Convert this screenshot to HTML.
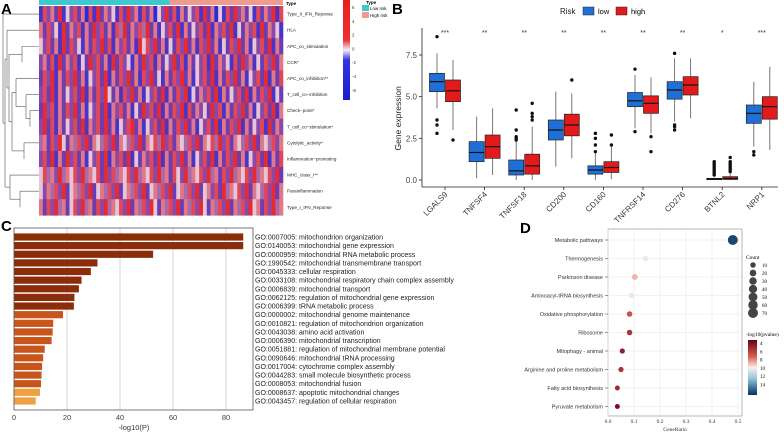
<!DOCTYPE html>
<html><head><meta charset="utf-8"><style>
html,body{margin:0;padding:0;background:#fff;}
svg{display:block;font-family:"Liberation Sans",sans-serif;}
</style></head><body>
<svg id="fig" width="784" height="433" viewBox="0 0 784 433" xmlns="http://www.w3.org/2000/svg">
<defs>
<linearGradient id="hmgrad" x1="0" y1="0" x2="0" y2="1">
<stop offset="0" stop-color="#e8201c"/><stop offset="0.4" stop-color="#ee3030"/><stop offset="0.5" stop-color="#f4f0f4"/><stop offset="0.6" stop-color="#3434e0"/><stop offset="1" stop-color="#1c1cc8"/></linearGradient>
<linearGradient id="pgrad" x1="0" y1="0" x2="0" y2="1">
<stop offset="0" stop-color="#67001f"/><stop offset="0.3" stop-color="#d6604d"/><stop offset="0.5" stop-color="#f7f0ea"/><stop offset="0.7" stop-color="#92c5de"/><stop offset="1" stop-color="#053061"/></linearGradient>
</defs>
<g id="pA"></g>
<g id="pB"></g>
<g id="pC"></g>
<g id="pD"></g>
</svg>
<script>
// ---------- Panel A data ----------
const hmRows = ["Type_II_IFN_Reponse","HLA","APC_co_stimulation","CCR*","APC_co_inhibition**","T_cell_co\u2212inhibition","Check\u2212point*","T_cell_co\u2212stimulation*","Cytolytic_activity*","Inflammation\u2212promoting","MHC_class_I**","Parainflammation","Type_I_IFN_Reponse"];
const hmCells = [
"1736281537260718263517283617260538271625371826051728362517263817",
"6273518263716283726174826374826153728162537281637281526371826351",
"5372618273516273827163726185738261527382617382615273826153728162",
"3627182637152837261827351628371625382716253718263517283615273826",
"2738162738261537281627382617382516273826153728162738261537281627",
"3728162537281627385261738261537281627381526372816253728162738152",
"2837162738261537281637261528372816273817263528371627382615372816",
"3827162537281637282615378261537281627382615372816273816253718263",
"4627385264738265473826547382657483726547382657483726547382654736",
"3728162837261537281637281526372816273826153728162738261537281627",
"5746384657384657283746573846573846275384657384627384657384657382",
"5364738256473825647382564738256473825647382563728465738265473826",
"6273846257384627384657382647385264738264738526473826473856273846"];
const hmTicks = ["6","4","2","0","-2","-4","-6"];
// ---------- Panel B data ----------
const bGenes = ["LGALS9","TNFSF4","TNFSF18","CD200","CD160","TNFRSF14","CD276","BTNL2","NRP1"];
const bSig = ["***","**","**","**","**","**","**","*","***"];
// [min, q1, median, q3, max]
const bLow = [[4.3,5.3,5.9,6.4,7.6],[0.1,1.1,1.65,2.3,3.8],[0,0.3,0.55,1.2,2.3],[0.8,2.4,3.0,3.6,5.3],[0,0.35,0.6,0.85,1.6],[3.1,4.4,4.75,5.25,6.3],[3.5,4.85,5.4,5.9,7.3],[0,0.02,0.06,0.1,0.15],[2.0,3.4,4.0,4.5,5.9]];
const bHigh = [[3.0,4.7,5.35,6.0,7.2],[0.3,1.3,2.0,2.7,4.3],[0,0.35,0.85,1.55,3.2],[1.3,2.65,3.3,3.95,5.2],[0.05,0.45,0.75,1.1,2.0],[2.8,4.0,4.6,5.05,6.15],[3.7,5.1,5.7,6.2,7.3],[0,0.03,0.1,0.2,0.4],[1.8,3.65,4.4,5.0,6.8]];
const bOutLow = [[8.6,3.6,3.3,2.8],[],[4.2,3.0,2.6,2.5,2.4],[],[2.8,2.5,2.1,1.7],[6.65,2.9],[7.6,3.3,3.2,3.0],[1.1,1.0,0.9,0.8,0.7,0.6,0.5,0.4,0.3],[1.7,1.5]];
const bOutHigh = [[2.4],[],[4.6,4.0,3.8,3.6],[6.0],[2.7,2.1],[2.6,1.7],[],[1.35,1.1,1.0,0.9,0.8,0.7,0.6,0.5],[]];
const bTicks = [0,2.5,5,7.5];
// ---------- Panel C data ----------
const cTerms = ["GO:0007005: mitochondrion organization","GO:0140053: mitochondrial gene expression","GO:0000959: mitochondrial RNA metabolic process","GO:1990542: mitochondrial transmembrane transport","GO:0045333: cellular respiration","GO:0033108: mitochondrial respiratory chain complex assembly","GO:0006839: mitochondrial transport","GO:0062125: regulation of mitochondrial gene expression","GO:0006399: tRNA metabolic process","GO:0000002: mitochondrial genome maintenance","GO:0010821: regulation of mitochondrion organization","GO:0043038: amino acid activation","GO:0006390: mitochondrial transcription","GO:0051881: regulation of mitochondrial membrane potential","GO:0090646: mitochondrial tRNA processing","GO:0017004: cytochrome complex assembly","GO:0044283: small molecule biosynthetic process","GO:0008053: mitochondrial fusion","GO:0008637: apoptotic mitochondrial changes","GO:0043457: regulation of cellular respiration"];
const cValues = [86.5,86.5,52.5,31.5,29,25.5,24.5,22.8,22.6,18.5,14.8,14.6,14.2,11.6,11,10.6,10.4,10.2,9.8,8.2];
const cTicks = [0,20,40,60,80];
// ---------- Panel D data ----------
const dTerms = ["Metabolic pathways","Thermogenesis","Parkinson disease","Aminoacyl-tRNA biosynthesis","Oxidative phosphorylation","Ribosome","Mitophagy - animal","Arginine and proline metabolism","Fatty acid biosynthesis","Pyruvate metabolism"];
const dRatio = [0.48,0.145,0.103,0.09,0.083,0.083,0.055,0.05,0.036,0.036];
const dCount = [70,12,12,10,10,10,8,8,6,6];
const dLogP = [15.5,9.3,8.2,10,5.8,4.8,4.2,4.8,4.5,3.5];
const dTicks = [0,0.1,0.2,0.3,0.4,0.5];
const dCountTicks = [10,20,30,40,50,60,70];
const dPTicks = [4,6,8,10,12,14];

const NS="http://www.w3.org/2000/svg";
function mk(parent,tag,attrs,text){const e=document.createElementNS(NS,tag);for(const k in attrs)e.setAttribute(k,attrs[k]);if(text!==undefined)e.textContent=text;parent.appendChild(e);return e;}
function lerp(a,b,t){return a.map((v,i)=>Math.round(v+(b[i]-v)*t));}

// ---------- Panel A ----------
(function(){
const g=document.getElementById('pA');
const t=mk(g,'text',{x:1,y:14,'font-size':15,'font-weight':'bold'},'A');

const x0=39,x1=283,y0=6,rh=16.1;
const nCols=hmCells[0].length, cw=(x1-x0)/nCols;
const tb1=mk(g,'rect',{x:x0,y:0,width:(x1-x0)*0.535,height:5,fill:'#3ec8d0'});

const tb2=mk(g,'rect',{x:x0+(x1-x0)*0.535,y:0,width:(x1-x0)*0.465,height:5,fill:'#f09a90'});

mk(g,'text',{x:286,y:5,'font-size':4.5,'font-weight':'bold'},'Type');
const pal={'0':'#2a2ad8','1':'#4a34c8','2':'#6c3cb0','3':'#8a48a8','4':'#a86aa8','5':'#e6c6d6','6':'#e07888','7':'#e04858','8':'#e62a30'};
hmRows.forEach((name,r)=>{
 const s=hmCells[r];
 for(let c=0;c<nCols;c++){
  const cell=mk(g,'rect',{x:x0+c*cw,y:y0+r*rh,width:cw+0.3,height:rh+0.3,fill:pal[s[c]]});
  
  
 }
 const lab=mk(g,'text',{x:287,y:y0+r*rh+rh/2+1.5,'font-size':4.6,fill:'#222'},name);
 
 
});
// dendrogram
const den=mk(g,'g',{stroke:'#555','stroke-width':0.6,fill:'none'});

const yc=i=>y0+i*rh+rh/2;
const seg=(x1_,y1_,x2_,y2_)=>mk(den,'line',{x1:x1_,y1:y1_,x2:x2_,y2:y2_});
function link(a,ax,b,bx,hx){seg(ax,a,hx,a);seg(bx,b,hx,b);seg(hx,a,hx,b);return [(a+b)/2,hx];}
let n23=link(yc(2),39,yc(3),22,22);
let n56=link(yc(6),39,yc(7),30,30);
let n5x=link(yc(5),39,n56[0],30,26);
let n4x=link(yc(4),39,n5x[0],26,16);
let n89=link(yc(8),39,yc(9),24,24);
let n48=link(n4x[0],16,n89[0],24,12);
let n2x=link(n23[0],22,n48[0],12,9);
let n1x=link(yc(1),39,n2x[0],9,7);
let n1112=link(yc(11),39,yc(12),20,20);
let n10x=link(yc(10),39,n1112[0],20,10);
let n1y=link(n1x[0],7,n10x[0],10,5);
link(yc(0),39,n1y[0],5,3);
// colorbar
const cb=mk(g,'rect',{x:343,y:0,width:7,height:100,fill:'url(#hmgrad)'});

hmTicks.forEach((tk,i)=>{mk(g,'text',{x:352,y:9+i*13.8,'font-size':4.5,fill:'#333'},tk);});
mk(g,'text',{x:366,y:4,'font-size':4.5,'font-weight':'bold'},'Type');
const l1=mk(g,'rect',{x:362,y:5,width:7,height:6,fill:'#3ec8d0'});

const l2=mk(g,'rect',{x:362,y:12,width:7,height:6,fill:'#f09a90'});

mk(g,'text',{x:370,y:10,'font-size':4.5},'Low risk');
mk(g,'text',{x:370,y:17,'font-size':4.5},'High risk');
})();

// ---------- Panel B ----------
(function(){
const g=document.getElementById('pB');
const t=mk(g,'text',{x:392,y:14,'font-size':15,'font-weight':'bold'},'B');

const ax=422,ay=187,xr=778;
const ys=v=>180-v*(125/7.5);
const xc=i=>445+i*39.6;
mk(g,'line',{x1:ax,y1:28,x2:ax,y2:ay,stroke:'#222','stroke-width':0.8});
mk(g,'line',{x1:ax,y1:ay,x2:xr,y2:ay,stroke:'#222','stroke-width':0.8});
bTicks.forEach(v=>{
 mk(g,'line',{x1:ax-3,y1:ys(v),x2:ax,y2:ys(v),stroke:'#222','stroke-width':0.8});
 const tl=mk(g,'text',{x:ax-5,y:ys(v)+3,'font-size':8,'text-anchor':'end',fill:'#444'},v.toFixed(1));
 
});
const yt=mk(g,'text',{x:0,y:0,'font-size':8.5,'text-anchor':'middle',fill:'#222',transform:`translate(401,${ys(3.7)}) rotate(-90)`},'Gene expression');

function box(x,s,fill,outs,nm){
 const grp=mk(g,'g',{});
 
 mk(grp,'line',{x1:x,y1:ys(s[0]),x2:x,y2:ys(s[4]),stroke:'#777','stroke-width':1});
 mk(grp,'rect',{x:x-7.5,y:ys(s[3]),width:15,height:ys(s[1])-ys(s[3]),fill:fill,stroke:'#222','stroke-width':0.7});
 mk(grp,'line',{x1:x-7.5,y1:ys(s[2]),x2:x+7.5,y2:ys(s[2]),stroke:'#111','stroke-width':1.2});
 outs.forEach(o=>mk(grp,'circle',{cx:x,cy:ys(o),r:1.7,fill:'#111'}));
}
bGenes.forEach((gn,i)=>{
 box(xc(i)-8,bLow[i],'#1f6fd6',bOutLow[i],'box-low-'+gn);
 box(xc(i)+8,bHigh[i],'#e31a1c',bOutHigh[i],'box-high-'+gn);
 mk(g,'line',{x1:xc(i),y1:ay,x2:xc(i),y2:ay+3,stroke:'#222','stroke-width':0.8});
 const xl=mk(g,'text',{x:0,y:0,'font-size':8,'text-anchor':'end',fill:'#333',transform:`translate(${xc(i)+3},${ay+8}) rotate(-45)`},gn);
 
 const sg=mk(g,'text',{x:xc(i),y:35,'font-size':7,'text-anchor':'middle',fill:'#333'},bSig[i]);
 
});
mk(g,'text',{x:560,y:14,'font-size':8,fill:'#222'},'Risk');
const lg1=mk(g,'rect',{x:583,y:7,width:11,height:8,fill:'#1f6fd6',stroke:'#222','stroke-width':0.5});

mk(g,'text',{x:598,y:14,'font-size':7.5},'low');
const lg2=mk(g,'rect',{x:616,y:7,width:11,height:8,fill:'#e31a1c',stroke:'#222','stroke-width':0.5});

mk(g,'text',{x:631,y:14,'font-size':7.5},'high');
})();

// ---------- Panel C ----------
(function(){
const g=document.getElementById('pC');
const t=mk(g,'text',{x:1,y:231,'font-size':15,'font-weight':'bold'},'C');

const x0=14,x1=253,y0=228,y1=410;
const xs=v=>x0+v*(212/80);
cTicks.forEach(v=>{
 mk(g,'line',{x1:xs(v),y1:y0,x2:xs(v),y2:y1,stroke:'#ccc','stroke-width':0.8});
 const tl=mk(g,'text',{x:xs(v),y:420,'font-size':7.5,'text-anchor':'middle',fill:'#444'},String(v));
 
});
cValues.forEach((v,i)=>{
 const cy=237+i*8.63;
 const fill=i<9?'#8b2d0b':(i<18?'#c8561c':'#f0a040');
 const b=mk(g,'rect',{x:x0,y:cy-3.6,width:xs(v)-x0,height:7.2,fill:fill});
 
 const l=mk(g,'text',{x:255,y:cy+2.5,'font-size':7,fill:'#222'},cTerms[i]);
 
});
mk(g,'rect',{x:x0,y:y0,width:x1-x0,height:y1-y0,fill:'none',stroke:'#555','stroke-width':0.8});
const xt=mk(g,'text',{x:134,y:430,'font-size':7.5,'text-anchor':'middle',fill:'#333'},'-log10(P)');

})();

// ---------- Panel D ----------
(function(){
const g=document.getElementById('pD');
const t=mk(g,'text',{x:520,y:233,'font-size':15,'font-weight':'bold'},'D');

const x0=608,x1=742,y0=229,y1=416;
const xs=v=>x0+v*260;
const yc=i=>240+i*18.5;
mk(g,'rect',{x:x0,y:y0,width:x1-x0,height:y1-y0,fill:'#fff',stroke:'#888','stroke-width':0.6});
dTicks.forEach(v=>{
 mk(g,'line',{x1:xs(v),y1:y0,x2:xs(v),y2:y1,stroke:'#e6e6e6','stroke-width':0.6});
 const tl=mk(g,'text',{x:xs(v),y:423,'font-size':5.5,'text-anchor':'middle','font-family':'Liberation Serif',fill:'#333'},v.toFixed(1));
 
});
const pcol=p=>{const tt=Math.max(0,Math.min(1,(p-3)/13));
 const stops=[[103,0,31],[214,96,77],[247,240,234],[146,197,222],[5,48,97]];
 const s=tt*4,k=Math.min(3,Math.floor(s));const c=lerp(stops[k],stops[k+1],s-k);return `rgb(${c[0]},${c[1]},${c[2]})`;};
const rs=n=>1.4+Math.sqrt(n)*0.43;
dTerms.forEach((nm,i)=>{
 mk(g,'line',{x1:x0,y1:yc(i),x2:x1,y2:yc(i),stroke:'#e6e6e6','stroke-width':0.6});
 mk(g,'line',{x1:x0-3,y1:yc(i),x2:x0,y2:yc(i),stroke:'#555','stroke-width':0.6});
 const l=mk(g,'text',{x:603,y:yc(i)+2,'font-size':5.5,'text-anchor':'end',fill:'#333'},nm);
 
 const c=mk(g,'circle',{cx:xs(dRatio[i]),cy:yc(i),r:rs(dCount[i]),fill:pcol(dLogP[i])});
 
});
const xt=mk(g,'text',{x:675,y:431,'font-size':5.5,'text-anchor':'middle','font-family':'Liberation Serif',fill:'#333'},'GeneRatio');

mk(g,'text',{x:746,y:259,'font-size':5.5,'font-family':'Liberation Serif'},'Count');
dCountTicks.forEach((n,i)=>{
 const y=265+i*8;
 mk(g,'circle',{cx:753,cy:y,r:rs(n),fill:'#444'});
 mk(g,'text',{x:762,y:y+2,'font-size':5,'font-family':'Liberation Serif'},String(n));
});
mk(g,'text',{x:746,y:336,'font-size':5.5,'font-family':'Liberation Serif'},'-log10(pvalue)');
const cb=mk(g,'rect',{x:748,y:340,width:9,height:55,fill:'url(#pgrad)'});

dPTicks.forEach((p,i)=>{mk(g,'text',{x:760,y:345+i*8.3,'font-size':5,'font-family':'Liberation Serif'},String(p));});
})();
</script>
</body></html>
